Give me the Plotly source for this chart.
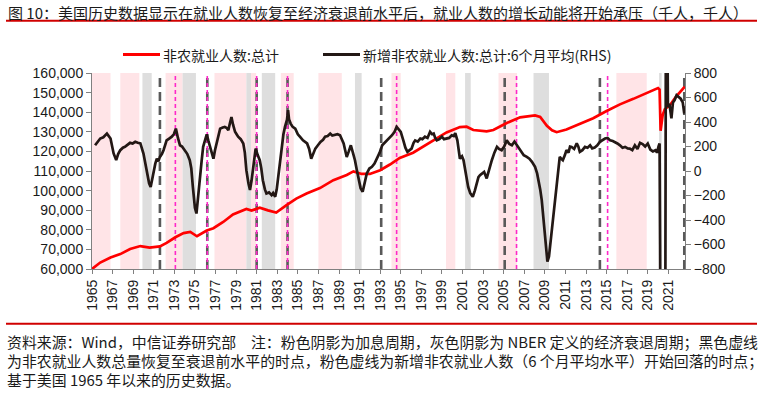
import plotly.graph_objects as go

# ---------------- data ----------------
title_text = "图 10：美国历史数据显示在就业人数恢复至经济衰退前水平后，就业人数的增长动能将开始承压（千人，千人）"
legend_labels = ["非农就业人数:总计", "新增非农就业人数:总计:6个月平均(RHS)"]
footer_lines = [
    "资料来源：Wind，中信证券研究部　注：粉色阴影为加息周期，灰色阴影为 NBER 定义的经济衰退周期；黑色虚线",
    "为非农就业人数总量恢复至衰退前水平的时点，粉色虚线为新增非农就业人数（6 个月平均水平）开始回落的时点；",
    "基于美国 1965 年以来的历史数据。",
]

tick_years = list(range(1965, 2022, 2))
tick_labels = [str(y) for y in tick_years]

# 非农就业人数:总计 (千人, left axis)
payroll_t = [1965.0, 1965.8, 1966.8, 1967.75, 1968.7, 1969.7, 1970.6, 1971.6, 1972.25, 1973.1,
             1973.9, 1974.55, 1975.2, 1976.15, 1976.8, 1977.75, 1978.7, 1980.0, 1980.5, 1981.3,
             1982.1, 1982.9, 1983.9, 1984.85, 1985.85, 1987.15, 1988.45, 1989.75, 1990.4, 1991.2,
             1992.0, 1993.0, 1993.95, 1994.9, 1996.2, 1997.85, 1999.45, 2000.75, 2001.4, 2002.05,
             2003.35, 2004.0, 2005.3, 2006.6, 2008.05, 2008.55, 2009.2, 2009.7, 2010.15, 2011.1,
             2012.4, 2013.7, 2015.0, 2016.3, 2017.6, 2018.9, 2020.0, 2020.15, 2020.25, 2020.45,
             2020.65, 2021.15, 2021.75, 2022.6]
payroll_v = [60000, 63300, 65900, 67600, 70200, 71700, 70900, 71500, 73300, 76200,
             78300, 78900, 76700, 79600, 80800, 84000, 87800, 90600, 89800, 91300,
             89900, 88800, 92600, 95900, 98500, 101300, 105300, 108000, 109800, 108500,
             108500, 110400, 113300, 116700, 119300, 124500, 129700, 132400, 132600, 130900,
             130200, 130900, 134500, 137400, 138400, 137600, 133100, 130800, 129800, 131200,
             134000, 136900, 140600, 144000, 146800, 149900, 152300, 151500, 130500, 138500,
             141500, 143500, 148000, 153000]

# 新增非农就业人数:总计:6个月平均 (千人, right axis)
change_t = [1965.3, 1965.55, 1965.8, 1966.1, 1966.45, 1966.8, 1967.1, 1967.35, 1967.55, 1967.75,
            1968.0, 1968.2, 1968.45, 1968.7, 1968.95, 1969.2, 1969.45, 1969.7, 1970.0, 1970.3,
            1970.55, 1970.7, 1970.85, 1971.0, 1971.15, 1971.3, 1971.45, 1971.6, 1971.8, 1971.95,
            1972.25, 1972.5, 1972.75, 1972.95, 1973.15, 1973.35, 1973.55, 1973.75, 1974.0, 1974.25,
            1974.5, 1974.65, 1974.8, 1975.0, 1975.15, 1975.3, 1975.5, 1975.65, 1975.8, 1976.0,
            1976.15, 1976.3, 1976.45, 1976.65, 1976.8, 1976.95, 1977.1, 1977.3, 1977.45, 1977.7,
            1977.9, 1978.1, 1978.25, 1978.4, 1978.55, 1978.7, 1978.9, 1979.05, 1979.2, 1979.45,
            1979.7, 1979.85, 1980.0, 1980.2, 1980.35, 1980.5, 1980.65, 1980.8, 1980.9, 1981.1,
            1981.3, 1981.45, 1981.6, 1981.8, 1981.95, 1982.2, 1982.45, 1982.6, 1982.8, 1982.95,
            1983.1, 1983.3, 1983.45, 1983.6, 1983.75, 1983.95, 1984.05, 1984.15, 1984.3, 1984.5,
            1984.75, 1985.0, 1985.2, 1985.5, 1985.9, 1986.1, 1986.3, 1986.5, 1986.7, 1986.95,
            1987.2, 1987.45, 1987.65, 1987.9, 1988.15, 1988.35, 1988.6, 1988.85, 1989.1, 1989.3,
            1989.45, 1989.6, 1989.75, 1989.95, 1990.15, 1990.35, 1990.55, 1990.75, 1990.9, 1991.1,
            1991.3, 1991.5, 1991.7, 1991.95, 1992.2, 1992.45, 1992.7, 1992.95, 1993.2, 1993.45,
            1993.65, 1993.9, 1994.15, 1994.4, 1994.6, 1994.8, 1995.0, 1995.25, 1995.45, 1995.65,
            1995.85, 1996.05, 1996.25, 1996.4, 1996.65, 1996.9, 1997.1, 1997.35, 1997.6, 1997.85,
            1998.05, 1998.2, 1998.35, 1998.5, 1998.75, 1999.0, 1999.2, 1999.45, 1999.7, 1999.95,
            2000.15, 2000.3, 2000.5, 2000.75, 2000.95, 2001.1, 2001.3, 2001.55, 2001.75, 2002.0,
            2002.2, 2002.4, 2002.55, 2002.7, 2002.9, 2003.1, 2003.35, 2003.6, 2003.85, 2004.1,
            2004.35, 2004.55, 2004.8, 2005.05, 2005.3, 2005.55, 2005.8, 2006.05, 2006.3, 2006.6,
            2006.95, 2007.25, 2007.5, 2007.75, 2008.05, 2008.25, 2008.4, 2008.55, 2008.7, 2008.85,
            2009.0, 2009.15, 2009.25, 2009.4, 2009.5, 2009.65, 2009.8, 2010.0, 2010.15, 2010.3,
            2010.45, 2010.6, 2010.75, 2010.95, 2011.1, 2011.3, 2011.45, 2011.6, 2011.85, 2012.1,
            2012.25, 2012.4, 2012.65, 2012.9, 2013.15, 2013.4, 2013.6, 2013.85, 2014.1, 2014.35,
            2014.6, 2014.85, 2015.1, 2015.35, 2015.6, 2015.8, 2016.05, 2016.3, 2016.55, 2016.8,
            2017.05, 2017.25, 2017.5, 2017.75, 2018.0, 2018.25, 2018.5, 2018.75, 2019.0, 2019.25,
            2019.5, 2019.75, 2019.9, 2020.05, 2020.15, 2020.2, 2020.3, 2020.5, 2020.7, 2020.78,
            2020.88, 2020.96, 2021.1, 2021.3, 2021.45, 2021.6, 2021.8, 2022.0, 2022.2, 2022.4,
            2022.55]
change_v = [210, 240, 265, 275, 305, 265, 143, 90, 140, 170,
            190, 197, 215, 230, 225, 238, 230, 225, 143, 7,
            -100, -130, -60, -20, 60, 100, 80, 115, 140, 170,
            250, 265, 280, 300, 346, 270, 210, 200, 170, 140,
            88, 20, -130, -300, -347, -200, -48, 80, 197, 270,
            300, 250, 197, 140, 100, 170, 225, 300, 346, 355,
            360, 350, 333, 390, 440, 380, 320, 300, 280, 260,
            225, 150, 7, -100, -155, -80, 7, 120, 183, 130,
            88, 20, -75, -150, -183, -175, -197, -180, -210, -150,
            -48, 100, 225, 300, 360, 420, 496, 420, 387, 360,
            346, 300, 280, 250, 225, 180, 100, 140, 183, 210,
            238, 255, 280, 285, 305, 290, 292, 300, 292, 260,
            225, 170, 115, 160, 210, 150, 88, 0, -75, -140,
            -170, -90, -20, 20, 34, 60, 100, 150, 210, 230,
            250, 270, 292, 320, 360, 340, 320, 250, 190, 156,
            170, 183, 230, 250, 240, 265, 260, 280, 270, 320,
            300, 305, 270, 250, 260, 280, 260, 265, 270, 292,
            285, 310, 250, 100, 120, 88, 0, -130, -180, -210,
            -160, -100, -50, -34, -20, -7, -61, 20, 88, 150,
            197, 180, 170, 200, 250, 220, 210, 240, 210, 170,
            129, 115, 100, 75, 34, -20, -75, -150, -238, -380,
            -509, -650, -740, -700, -618, -500, -374, -250, -130, 0,
            115, 100, 88, 130, 170, 150, 200, 197, 180, 225,
            200, 156, 170, 197, 190, 210, 185, 192, 210, 238,
            250, 265, 270, 250, 245, 238, 225, 210, 190, 197,
            185, 183, 170, 210, 180, 230, 220, 200, 225, 175,
            160, 170, 150, 200, 224, -600, -3000, -2500, -1500, 2000,
            1500, 520, 550, 430, 560, 577, 618, 600, 590, 560,
            469]

# 加息周期 (pink shading) and NBER recessions (grey shading)
hike_start = [1965.0, 1967.75, 1972.15, 1976.9, 1980.45, 1983.35, 1987.0, 1994.1, 1999.4, 2004.5, 2015.95]
hike_end = [1966.8, 1969.6, 1973.8, 1980.0, 1980.95, 1984.6, 1989.27, 1995.0, 2000.3, 2006.3, 2018.9]
recession_start = [1969.9, 1973.8, 1980.0, 1981.5, 1990.55, 2001.25, 2007.9, 2020.1]
recession_end = [1970.8, 1975.1, 1980.45, 1982.8, 1991.2, 2001.8, 2009.4, 2020.35]

# 黑色虚线: payrolls back to pre-recession level; 粉色虚线: 6m-avg gains start to fall
recovered_x = [1971.6, 1976.2, 1981.0, 1984.0, 1993.1, 2005.1, 2014.35, 2022.55]
slowdown_x = [1973.1, 1976.2, 1981.0, 1984.0, 1994.6, 2006.25, 2015.1]

# ---------------- layout helpers ----------------
W_PX, H_PX = 763, 399
L, R, T, B = 92, 685, 72.5, 269
PW, PH = R - L, B - T


def px_x(x):
    return (x - L) / PW


def px_y(y):
    return (B - y) / PH


CJK = "Noto Sans CJK SC, Noto Sans, sans-serif"
NUM = "Liberation Sans, Arial, sans-serif"

fig = go.Figure()

fig.add_trace(go.Scatter(x=payroll_t, y=payroll_v, mode="lines", name=legend_labels[0],
                         line=dict(color="#FF0000", width=2.7), yaxis="y", showlegend=False))
fig.add_trace(go.Scatter(x=change_t, y=change_v, mode="lines", name=legend_labels[1],
                         line=dict(color="#231815", width=2.7), yaxis="y2", showlegend=False))

shapes = []
for s, e in zip(hike_start, hike_end):
    shapes.append(dict(type="rect", xref="x", yref="paper", x0=s, x1=e, y0=0, y1=1,
                       fillcolor="rgb(255,228,231)", line=dict(width=0), layer="below"))
for s, e in zip(recession_start, recession_end):
    shapes.append(dict(type="rect", xref="x", yref="paper", x0=s, x1=e, y0=0, y1=1,
                       fillcolor="rgb(222,222,222)", line=dict(width=0), layer="below"))
for x in recovered_x:
    shapes.append(dict(type="line", xref="x", yref="paper", x0=x, x1=x, y0=0, y1=1,
                       line=dict(color="rgb(89,89,89)", width=2.6, dash="9px,5px"), layer="below"))
for x in slowdown_x:
    shapes.append(dict(type="line", xref="x", yref="paper", x0=x, x1=x, y0=0, y1=1,
                       line=dict(color="rgb(255,40,200)", width=1.6, dash="4px,3px"), layer="below"))

# title underline and footer line
shapes.append(dict(type="line", xref="paper", yref="paper", x0=px_x(6), x1=px_x(757),
                   y0=px_y(20), y1=px_y(20), line=dict(color="#D00000", width=2)))
shapes.append(dict(type="line", xref="paper", yref="paper", x0=px_x(6), x1=px_x(757),
                   y0=px_y(324), y1=px_y(324), line=dict(color="#D00000", width=2)))
# legend samples
shapes.append(dict(type="line", xref="paper", yref="paper", x0=px_x(123), x1=px_x(160),
                   y0=px_y(54), y1=px_y(54), line=dict(color="#FF0000", width=3)))
shapes.append(dict(type="line", xref="paper", yref="paper", x0=px_x(323), x1=px_x(360),
                   y0=px_y(54), y1=px_y(54), line=dict(color="#231815", width=3)))

annotations = [
    dict(text=title_text, xref="paper", yref="paper", x=px_x(6), y=px_y(12),
         xanchor="left", yanchor="middle", showarrow=False,
         font=dict(family=CJK, size=15, color="#1a1a1a")),
    dict(text=legend_labels[0], xref="paper", yref="paper", x=px_x(161), y=px_y(54),
         xanchor="left", yanchor="middle", showarrow=False,
         font=dict(family=CJK, size=14, color="#1a1a1a")),
    dict(text=legend_labels[1], xref="paper", yref="paper", x=px_x(361), y=px_y(54),
         xanchor="left", yanchor="middle", showarrow=False,
         font=dict(family=CJK, size=14, color="#1a1a1a")),
]
for i, line in enumerate(footer_lines):
    annotations.append(dict(text=line, xref="paper", yref="paper", x=px_x(5), y=px_y(341.5 + 19 * i),
                            xanchor="left", yanchor="middle", showarrow=False,
                            font=dict(family=CJK, size=14.9, color="#1a1a1a")))

axis_color = "#808080"
fig.update_layout(
    width=W_PX, height=H_PX, autosize=False,
    margin=dict(l=L, r=W_PX - R, t=T, b=H_PX - B, pad=0),
    paper_bgcolor="white", plot_bgcolor="white",
    showlegend=False,
    shapes=shapes, annotations=annotations,
    xaxis=dict(range=[1965, 2022.62], tickmode="array", tickvals=tick_years, ticktext=tick_labels,
               tickangle=-90, ticks="outside", ticklen=4, tickcolor=axis_color,
               showline=True, linecolor=axis_color, linewidth=1, showgrid=False, zeroline=False,
               tickfont=dict(family=NUM, size=14, color="#1a1a1a")),
    yaxis=dict(range=[60000, 160000], dtick=10000, tickformat=",", ticks="outside", ticklen=5,
               tickcolor=axis_color, showline=True, linecolor=axis_color, linewidth=1,
               showgrid=False, zeroline=False,
               tickfont=dict(family=NUM, size=14, color="#1a1a1a")),
    yaxis2=dict(range=[-800, 800], dtick=200, overlaying="y", side="right", ticks="outside",
                ticklen=5, tickcolor=axis_color, showline=True, linecolor=axis_color, linewidth=1,
                showgrid=False, zeroline=False,
                tickfont=dict(family=NUM, size=14, color="#1a1a1a")),
)

fig.write_html("out.html", config={"displayModeBar": False},
               post_script="document.body.style.margin='0';")
